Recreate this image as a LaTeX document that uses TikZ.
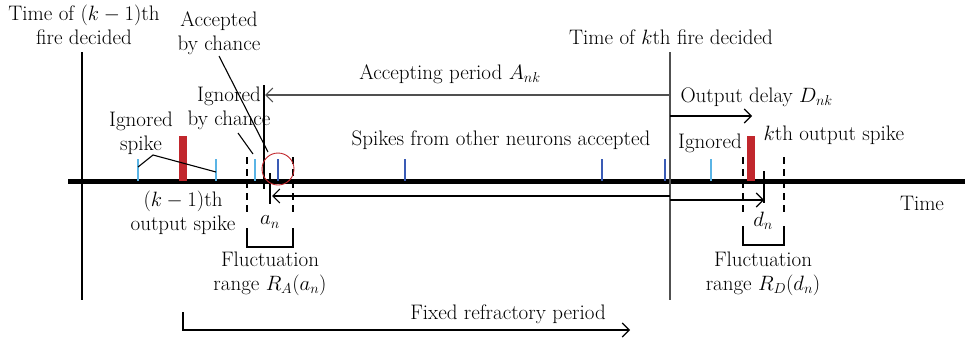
\documentclass[tikz,border=0pt]{standalone}
\usetikzlibrary{arrows.meta,calc}
\definecolor{spkl}{HTML}{5AB4E5}
\definecolor{spkd}{HTML}{3A5BB5}
\definecolor{firered}{HTML}{C1272D}
\definecolor{axgray}{HTML}{505050}
\begin{document}
\begin{tikzpicture}[x=1pt,y=-1pt,font=\fontsize{21}{24}\selectfont,line width=1.1pt,
    lbl/.style={align=center,inner sep=0pt},
    arr/.style={-{Straight Barb[length=7pt,width=14pt]}},
    dsh/.style={dashed,dash pattern=on 7pt off 5pt,line width=1.3pt}]
  \useasboundingbox (0,0) rectangle (965,340);
  \draw[line width=5pt](68,181)--(965,181);
  \coordinate(A)at(82,52);\coordinate(A')at(82,300);
  \coordinate(B)at(670,52);\coordinate(B')at(670,300);
  \draw(A)--(A');\draw[axgray](B)--(B');
  \node[lbl](T1)at(84,25){Time of $(k-1)$th\\fire decided};
  \node[lbl](T2)at(671,37){Time of $k$th fire decided};
  \coordinate(P)at(264,85);\coordinate(P')at(264,189);\draw(P)--(P');
  \coordinate(Ap)at(670,95);\coordinate(Ae)at(265,95);
  \draw[arr,axgray](Ap)--(Ae);
  \node[lbl](AP)at(450,74){Accepting period $A_{nk}$};
  \coordinate(Dp)at(670,116);\coordinate(De)at(752,116);
  \draw[arr](Dp)--(De);
  \node[lbl,anchor=west](OD)at(680,97){Output delay $D_{nk}$};
  \coordinate(Lp)at(670,196);\coordinate(Le)at(272,196);\draw[arr](Lp)--(Le);
  \coordinate(Rp)at(670,200);\coordinate(Re)at(764,200);\draw[arr](Rp)--(Re);
  \draw(270,173)--(270,204);\draw(764,171)--(764,203);
  \foreach \x in{247,293,743,784}{\draw[dsh](\x,157)--(\x,212);}
  \draw(247,228)--(247,247)--(293,247)--(293,228);
  \draw(743,226)--(743,245)--(784,245)--(784,226);
  \foreach \x in{138,216,255,711}{\draw[spkl](\x,159)--(\x,181);}
  \foreach \x in{278,405,602,665}{\draw[spkd](\x,159)--(\x,181);}
  \fill[firered](179,136)rectangle(187,181);
  \fill[firered](747,136)rectangle(755,181);
  \draw[firered,line width=0.9pt](278,169)circle(16);
  \node[lbl](IS)at(141,133){Ignored\\spike};
  \coordinate(L0)at(153,155);\coordinate(L1)at(138,167);\coordinate(L2)at(216,172);
  \draw(L1)--(L0)--(L2);
  \node[lbl](IC)at(229,108){Ignored\\by chance};
  \coordinate(C0)at(238,133);\coordinate(C1)at(253,154);\draw(C0)--(C1);
  \node[lbl](AC)at(219,33){Accepted\\by chance};
  \coordinate(E0)at(219,56);\coordinate(E1)at(268,152);\draw(E0)--(E1);
  \node[lbl](SO)at(501,140){Spikes from other neurons accepted};
  \node[lbl](IG)at(710,143){Ignored};
  \node[lbl,anchor=west](KO)at(763,135){$k$th output spike};
  \node[lbl](KM)at(183,213){$(k-1)$th\\output spike};
  \node[lbl](AN)at(270,222){$a_n$};
  \node[lbl](DN)at(763,221){$d_n$};
  \node[lbl](FA)at(270,274){Fluctuation\\range $R_A(a_n)$};
  \node[lbl](FD)at(763,274){Fluctuation\\range $R_D(d_n)$};
  \node[lbl](TM)at(922,203){Time};
  \coordinate(F0)at(183,312);\coordinate(F1)at(183,330);\coordinate(F2)at(630,330);
  \draw[arr](F0)--(F1)--(F2);
  \node[lbl](FR)at(508,314){Fixed refractory period};
\end{tikzpicture}
\end{document}
